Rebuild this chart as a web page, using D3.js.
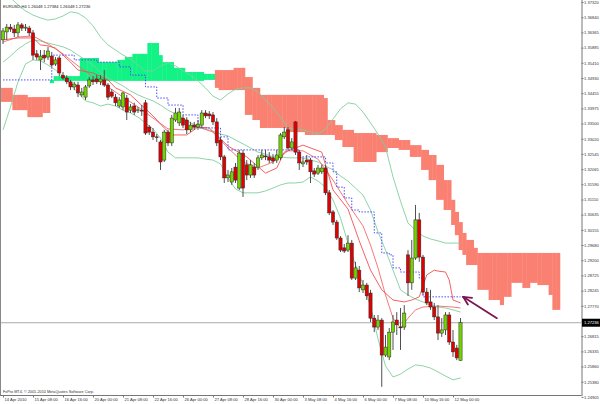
<!DOCTYPE html>
<html><head><meta charset="utf-8">
<script src="https://cdn.jsdelivr.net/npm/d3@7"></script>
<style>html,body{margin:0;padding:0;background:#fff;overflow:hidden}</style>
</head><body>
<svg id="c" width="600" height="404"></svg>
<script>
// ---------- data ----------
const chartTitle = "EURUSD,H4  1.26048 1.27384 1.26048 1.27236";
const copyright = "FxPro MT4, \u00A9 2001-2010 MetaQuotes Software Corp.";
const timeLabels = ["14 Apr 2010","15 Apr 08:00","16 Apr 16:00","20 Apr 00:00","21 Apr 08:00","22 Apr 16:00","26 Apr 00:00","27 Apr 08:00","28 Apr 16:00","30 Apr 00:00","3 May 08:00","4 May 16:00","6 May 00:00","7 May 08:00","10 May 16:00","12 May 00:00"];
const timeLabelBars = [0,8,16,24,32,40,48,56,64,72,80,88,96,104,112,120];
const priceTickLabels = ["1.37320","1.36840","1.36365","1.35885","1.35410","1.34930","1.34455","1.33975","1.33500","1.33020","1.32545","1.32065","1.31590","1.31110","1.30635","1.30155","1.29680","1.29200","1.28725","1.28245","1.27770","1.27290","1.26815","1.26335","1.25860","1.25380","1.24905"];
const lastPrice = 1.27236;

const open = [
1.3613,1.3638,1.3653,1.3647,1.3635,1.3660,1.3650,1.3650,1.3635,1.3569,
1.3550,1.3565,1.3559,1.3562,1.3537,1.3556,1.3502,1.3493,1.3481,1.3465,
1.3471,1.3440,1.3433,1.3468,1.3487,1.3490,1.3481,1.3487,1.3471,1.3449,
1.3433,1.3405,1.3402,1.3430,1.3392,1.3405,1.3392,1.3392,1.3415,1.3339,
1.3323,1.3308,1.3292,1.3235,1.3323,1.3289,1.3361,1.3352,1.3367,1.3361,
1.3330,1.3345,1.3339,1.3345,1.3383,1.3380,1.3377,1.3355,1.3298,1.3245,
1.3179,1.3166,1.3213,1.3147,1.3257,1.3220,1.3188,1.3213,1.3213,1.3242,
1.3248,1.3245,1.3242,1.3235,1.3242,1.3308,1.3330,1.3273,1.3355,1.3260,
1.3223,1.3235,1.3235,1.3201,1.3194,1.3198,1.3210,1.3132,1.3072,1.3040,
1.2990,1.2959,1.2952,1.2974,1.2864,1.2889,1.2827,1.2842,1.2817,1.2738,
1.2710,1.2732,1.2622,1.2616,1.2694,1.2732,1.2710,1.2710,1.2937,1.2849,
1.2927,1.3047,1.2930,1.2820,1.2789,1.2773,1.2742,1.2691,1.2701,1.2748,
1.2663,1.2644,1.26048];
const high = [
1.3650,1.3663,1.3663,1.3660,1.3669,1.3666,1.3663,1.3657,1.3644,1.3581,
1.3581,1.3581,1.3591,1.3575,1.3559,1.3562,1.3512,1.3502,1.3487,1.3481,
1.3481,1.3462,1.3471,1.3496,1.3499,1.3502,1.3502,1.3518,1.3477,1.3458,
1.3443,1.3433,1.3449,1.3440,1.3411,1.3415,1.3402,1.3408,1.3424,1.3345,
1.3336,1.3317,1.3298,1.3330,1.3330,1.3377,1.3399,1.3399,1.3377,1.3370,
1.3355,1.3355,1.3361,1.3392,1.3392,1.3389,1.3386,1.3367,1.3308,1.3251,
1.3204,1.3210,1.3226,1.3267,1.3267,1.3235,1.3235,1.3226,1.3251,1.3267,
1.3267,1.3260,1.3254,1.3267,1.3320,1.3339,1.3339,1.3304,1.3358,1.3267,
1.3242,1.3251,1.3242,1.3210,1.3220,1.3220,1.3220,1.3141,1.3078,1.3047,
1.2996,1.2971,1.2999,1.2984,1.2915,1.2902,1.2858,1.2849,1.2827,1.2748,
1.2748,1.2738,1.2685,1.2707,1.2748,1.2757,1.2770,1.2779,1.2952,1.2984,
1.3094,1.3069,1.2937,1.2833,1.2827,1.2786,1.2779,1.2738,1.2757,1.2757,
1.2701,1.2654,1.27384];
const low = [
1.3600,1.3613,1.3638,1.3622,1.3622,1.3641,1.3641,1.3625,1.3550,1.3550,
1.3518,1.3543,1.3550,1.3528,1.3531,1.3499,1.3487,1.3474,1.3455,1.3455,
1.3433,1.3433,1.3424,1.3462,1.3471,1.3474,1.3471,1.3465,1.3424,1.3430,
1.3405,1.3399,1.3392,1.3361,1.3383,1.3377,1.3383,1.3374,1.3314,1.3314,
1.3298,1.3292,1.3204,1.3229,1.3279,1.3279,1.3355,1.3342,1.3336,1.3317,
1.3323,1.3330,1.3330,1.3336,1.3367,1.3364,1.3345,1.3279,1.3235,1.3163,
1.3166,1.3157,1.3163,1.3141,1.3119,1.3172,1.3179,1.3179,1.3204,1.3235,
1.3235,1.3226,1.3223,1.3226,1.3235,1.3301,1.3267,1.3267,1.3251,1.3204,
1.3213,1.3220,1.3163,1.3182,1.3188,1.3191,1.3125,1.3062,1.3031,1.2984,
1.2946,1.2943,1.2946,1.2858,1.2858,1.2820,1.2817,1.2795,1.2726,1.2694,
1.2701,1.2522,1.2616,1.2606,1.2638,1.2685,1.2638,1.2701,1.2808,1.2827,
1.2921,1.2915,1.2811,1.2779,1.2764,1.2732,1.2669,1.2679,1.2685,1.2654,
1.2616,1.2606,1.26048];
const close = [
1.3641,1.3653,1.3647,1.3635,1.3660,1.3650,1.3653,1.3635,1.3565,1.3559,
1.3562,1.3556,1.3578,1.3534,1.3550,1.3509,1.3493,1.3481,1.3465,1.3474,
1.3446,1.3449,1.3465,1.3487,1.3481,1.3481,1.3490,1.3471,1.3433,1.3436,
1.3415,1.3424,1.3446,1.3386,1.3402,1.3386,1.3393,1.3389,1.3320,1.3323,
1.3308,1.3307,1.3229,1.3323,1.3289,1.3367,1.3383,1.3386,1.3345,1.3330,
1.3345,1.3339,1.3348,1.3383,1.3374,1.3374,1.3355,1.3289,1.3245,1.3179,
1.3188,1.3198,1.3172,1.3257,1.3147,1.3188,1.3220,1.3188,1.3242,1.3251,
1.3245,1.3235,1.3232,1.3251,1.3314,1.3323,1.3273,1.3292,1.3260,1.3226,
1.3229,1.3229,1.3198,1.3191,1.3210,1.3210,1.3132,1.3069,1.3040,1.2990,
1.2952,1.2949,1.2974,1.2864,1.2896,1.2833,1.2842,1.2808,1.2738,1.2710,
1.2732,1.2622,1.2647,1.2694,1.2726,1.2717,1.2709,1.2754,1.2849,1.2927,
1.3047,1.2930,1.2820,1.2786,1.2773,1.2742,1.2691,1.2701,1.2748,1.2663,
1.2632,1.2613,1.27236];

// Bollinger bands, read every 2 bars
const bandBars = d3.range(0, 123, 2);
const bbUpper = [1.3776,1.3745,1.3723,1.3704,1.3691,1.3682,1.3675,1.3679,1.3688,1.3701,
1.3697,1.3682,1.3657,1.3622,1.3597,1.3581,1.3565,1.3553,1.3534,1.3515,
1.3515,1.3531,1.3540,1.3531,1.3515,1.3502,1.3484,1.3462,1.3436,1.3424,
1.3443,1.3458,1.3462,1.3462,1.3449,1.3424,1.3399,1.3370,1.3336,1.3333,
1.3330,1.3323,1.3317,1.3333,1.3364,1.3396,1.3415,1.3411,1.3386,1.3352,
1.3317,1.3276,1.3182,1.3106,1.3037,1.3015,1.2996,1.2987,1.2981,1.2974,
1.2974,1.2974];
const bbMiddle = [1.3543,1.3562,1.3584,1.3600,1.3613,1.3609,1.3603,1.3597,1.3591,1.3581,
1.3565,1.3550,1.3534,1.3512,1.3493,1.3481,1.3468,1.3452,1.3440,1.3430,
1.3421,1.3408,1.3392,1.3380,1.3367,1.3352,1.3342,1.3333,1.3326,1.3317,
1.3311,1.3298,1.3286,1.3273,1.3260,1.3254,1.3245,1.3245,1.3242,1.3242,
1.3242,1.3235,1.3229,1.3216,1.3204,1.3185,1.3169,1.3147,1.3125,1.3078,
1.3009,1.2952,1.2889,1.2827,1.2811,1.2798,1.2789,1.2779,1.2773,1.2770,
1.2764,1.2757];
const bbLower = [1.3330,1.3402,1.3481,1.3537,1.3550,1.3547,1.3534,1.3518,1.3499,1.3474,
1.3446,1.3421,1.3415,1.3405,1.3411,1.3405,1.3392,1.3383,1.3370,1.3352,
1.3333,1.3304,1.3260,1.3242,1.3242,1.3242,1.3242,1.3238,1.3235,1.3223,
1.3179,1.3144,1.3132,1.3132,1.3132,1.3138,1.3147,1.3157,1.3163,1.3163,
1.3166,1.3182,1.3169,1.3150,1.3110,1.3053,1.2974,1.2905,1.2845,1.2776,
1.2673,1.2588,1.2553,1.2562,1.2578,1.2591,1.2588,1.2581,1.2569,1.2556,
1.2544,1.2550];

// red moving line (smooth)
const maBars = [0,4,8,12,16,20,24,28,32,36,40,44,48,52,56,60,64,68,72,76,80,84,88,92,96,98,100,102,104,106,108,110,112,116,120,122];
const maValues = [1.3606,1.3622,1.3625,1.3600,1.3569,1.3531,1.3496,1.3465,1.3433,1.3402,1.3367,1.3333,1.3330,1.3339,1.3323,1.3273,1.3229,1.3210,1.3229,1.3264,1.3264,1.3238,1.3172,1.3097,1.3028,1.2968,1.2896,1.2811,1.2738,1.2707,1.2738,1.2764,1.2773,1.2776,1.2773,1.2770];

// tenkan-sen (red)
const tenkanBars = [0,4,8,10,12,14,16,18,20,24,28,30,34,36,40,43,45,49,52,55,60,65,70,73,75,80,85,88,92,95,98,101,104,107,109,111,113,115,116,118,119,120,122];
const tenkanValues = [1.3613,1.3619,1.3619,1.3597,1.3594,1.3587,1.3565,1.3543,1.3518,1.3509,1.3487,1.3462,1.3440,1.3418,1.3374,1.3336,1.3314,1.3314,1.3339,1.3336,1.3279,1.3245,1.3194,1.3210,1.3260,1.3282,1.3260,1.3141,1.3081,1.2981,1.2889,1.2827,1.2795,1.2789,1.2795,1.2805,1.2874,1.2889,1.2886,1.2883,1.2858,1.2795,1.2786];

// kijun-sen (blue dotted), value holds from bar onward
const kijunBars = [0,13,19,25,31,34,38,41,44,48,52,58,60,79,86,88,89,91,93,95,99,101,103,104,106,111,112,122];
const kijunValues = [1.3487,1.3565,1.3550,1.3543,1.3528,1.3502,1.3465,1.3430,1.3408,1.3377,1.3336,1.3308,1.3267,1.3245,1.3226,1.3198,1.3150,1.3116,1.3078,1.3072,1.3006,1.2943,1.2937,1.2896,1.2883,1.2864,1.2805,1.2805];

// Ichimoku cloud (senkou spans, shifted 26 bars ahead), as runs of bars
const kumoFrom = [-1,3,7,11,13,14,21,26,31,33,35,39,42,43,46,49,54,57,58,62,65,67,69,76,81,86,87,89,91,94,100,103,106,109,112,114,116,118,120,121,122,123,124,126,127,130,133,134,136,139,141,143,146,147];
const kumoTo   = [2,6,10,12,13,20,25,30,32,34,38,41,42,45,48,53,56,57,61,64,66,68,75,80,85,86,88,90,93,99,102,105,108,111,113,115,117,119,120,121,122,123,125,126,129,132,133,135,138,140,142,145,146,148];
const senkouA  = [1.3418,1.3392,1.3370,1.3383,1.3487,1.3499,1.3556,1.3543,1.3550,1.3559,1.3569,1.3603,1.3565,1.3543,1.3525,1.3512,1.3506,1.3462,1.3455,1.3455,1.3377,1.3361,1.3336,1.3323,1.3314,1.3314,1.3314,1.3298,1.3276,1.3229,1.3260,1.3273,1.3267,1.3245,1.3204,1.3172,1.3110,1.3078,1.3031,1.2999,1.2952,1.2937,1.2905,1.2905,1.2827,1.2795,1.2779,1.2805,1.2849,1.2833,1.2849,1.2842,1.2811,1.2764];
const senkouB  = [1.3462,1.3440,1.3433,1.3433,1.3477,1.3484,1.3484,1.3484,1.3484,1.3484,1.3484,1.3484,1.3484,1.3484,1.3484,1.3484,1.3487,1.3518,1.3518,1.3525,1.3496,1.3462,1.3440,1.3440,1.3440,1.3430,1.3361,1.3345,1.3330,1.3320,1.3314,1.3304,1.3298,1.3282,1.3267,1.3251,1.3220,1.3172,1.3110,1.3072,1.3040,1.3006,1.2984,1.2959,1.2943,1.2943,1.2943,1.2943,1.2943,1.2943,1.2943,1.2943,1.2943,1.2943];

// hand-drawn arrow (bar index, price)
const arrowTail = [131.7, 1.2738];
const arrowHead = [122.7, 1.2805];

// ---------- drawing ----------
const svg = d3.select("#c");
const plotRight = 581.5, plotBottom = 395;
const x = d3.scaleLinear().domain([0, 122]).range([3, 460.5]);
const y = d3.scaleLinear().domain([1.24964, 1.37383]).range([plotBottom, 0]);
const step = x(1) - x(0);
const font = "'Liberation Sans', Arial, sans-serif";
const fs = "4.1px";

svg.append("rect").attr("width",600).attr("height",404).attr("fill","#fff");
svg.append("defs").append("clipPath").attr("id","plot")
  .append("rect").attr("x",0).attr("y",0).attr("width",plotRight).attr("height",plotBottom);
const g = svg.append("g").attr("clip-path","url(#plot)");

// cloud
const kumo = [];
kumoFrom.forEach((f,k)=>{ for(let i=f;i<=kumoTo[k];i++) kumo.push({i, a:senkouA[k], b:senkouB[k]}); });
g.selectAll("rect.kumo").data(kumo).join("rect").attr("class","kumo")
  .attr("x", d=>x(d.i)-step/2).attr("width", step+0.4)
  .attr("y", d=>y(Math.max(d.a,d.b))).attr("height", d=>Math.abs(y(d.a)-y(d.b)))
  .attr("fill", d=> d.a>=d.b ? "#12f285" : "#fa8072");

const mk = (bars, vals, curve) => d3.line().curve(curve||d3.curveLinear).x((d,k)=>x(bars[k])).y(d=>y(d))(vals);

// price line
g.append("line").attr("x1",0).attr("x2",plotRight).attr("y1",y(lastPrice)).attr("y2",y(lastPrice))
  .attr("stroke","#a9a9a9").attr("stroke-width",1);

// bollinger
[bbUpper,bbMiddle,bbLower].forEach(v=>{
  g.append("path").attr("d",mk(bandBars,v)).attr("fill","none").attr("stroke","#7fcf9c").attr("stroke-width",0.9);
});
// red lines
g.append("path").attr("d",mk(maBars,maValues)).attr("fill","none").attr("stroke","#f26a6a").attr("stroke-width",0.9);
g.append("path").attr("d",mk(tenkanBars,tenkanValues)).attr("fill","none").attr("stroke","#f05050").attr("stroke-width",0.9);
// kijun
g.append("path").attr("d",mk(kijunBars,kijunValues,d3.curveStepAfter)).attr("fill","none")
  .attr("stroke","#4b4bff").attr("stroke-width",1).attr("stroke-dasharray","1.5,1.5");

// candles
const bars = open.map((o,i)=>({i,o,h:high[i],l:low[i],c:close[i]}));
const cg = g.append("g");
cg.selectAll("line.wick").data(bars).join("line").attr("class","wick")
  .attr("x1",d=>x(d.i)).attr("x2",d=>x(d.i)).attr("y1",d=>y(d.h)).attr("y2",d=>y(d.l))
  .attr("stroke","#505050").attr("stroke-width",1);
cg.selectAll("rect.body").data(bars).join("rect").attr("class","body")
  .attr("x",d=>x(d.i)-1.6).attr("width",3.2)
  .attr("y",d=>y(Math.max(d.o,d.c))).attr("height",d=>Math.max(0.8,Math.abs(y(d.o)-y(d.c))))
  .attr("fill",d=>d.c>=d.o ? "#74d400" : "#e00000")
  .attr("stroke","#2a2a2a").attr("stroke-width",0.5);

// arrow
const ax1=x(arrowTail[0]), ay1=y(arrowTail[1]), ax2=x(arrowHead[0]), ay2=y(arrowHead[1]);
const ang=Math.atan2(ay1-ay2, ax1-ax2);
const ag = svg.append("g").attr("stroke","#7d1650").attr("stroke-width",1.8).attr("stroke-linecap","round");
ag.append("line").attr("x1",ax1).attr("y1",ay1).attr("x2",ax2).attr("y2",ay2);
[0.45,-0.45].forEach(da=>{
  ag.append("line").attr("x1",ax2).attr("y1",ay2)
    .attr("x2",ax2+9*Math.cos(ang+da)).attr("y2",ay2+9*Math.sin(ang+da));
});

// frame
svg.append("line").attr("x1",0.5).attr("x2",0.5).attr("y1",0).attr("y2",plotBottom).attr("stroke","#888");
svg.append("line").attr("x1",0).attr("x2",plotRight).attr("y1",plotBottom+0.5).attr("y2",plotBottom+0.5).attr("stroke","#777");

// right price axis
const yAxis = d3.axisRight(y).tickValues(priceTickLabels.map(Number))
  .tickFormat((d,i)=>priceTickLabels[i]).tickSize(2).tickSizeOuter(0).tickPadding(0.5);
const ya = svg.append("g").attr("transform",`translate(${plotRight},0)`).call(yAxis);
ya.select(".domain").attr("stroke","#777").attr("d",`M0.5,0V${plotBottom+1}`);
ya.selectAll(".tick line").attr("stroke","#777");
ya.selectAll("text").attr("font-family",font).attr("font-size",fs).attr("fill","#333");

// last price box
const lp = svg.append("g");
lp.append("rect").attr("x",plotRight+0.5).attr("y",y(lastPrice)-4).attr("width",600-plotRight).attr("height",8).attr("fill","#000");
lp.append("text").attr("x",plotRight+2.5).attr("y",y(lastPrice)).attr("dy","0.35em")
  .attr("font-family",font).attr("font-size",fs).attr("fill","#fff").text(lastPrice.toFixed(5));

// bottom time axis
const xAxis = d3.axisBottom(x).tickValues(timeLabelBars).tickFormat((d,i)=>timeLabels[i])
  .tickSize(2.5).tickSizeOuter(0).tickPadding(0.5);
const xa = svg.append("g").attr("transform",`translate(0,${plotBottom})`).call(xAxis);
xa.select(".domain").remove();
xa.selectAll(".tick line").attr("stroke","#777");
xa.selectAll("text").attr("text-anchor","start").attr("dx","1px")
  .attr("font-family",font).attr("font-size",fs).attr("fill","#333");

// title and copyright
svg.append("text").attr("x",3).attr("y",7.5).attr("font-family",font).attr("font-size",fs).attr("fill","#222").text(chartTitle);
svg.append("text").attr("x",3).attr("y",392.5).attr("font-family",font).attr("font-size","3.8px").attr("fill","#333").text(copyright);
</script>
</body></html>
